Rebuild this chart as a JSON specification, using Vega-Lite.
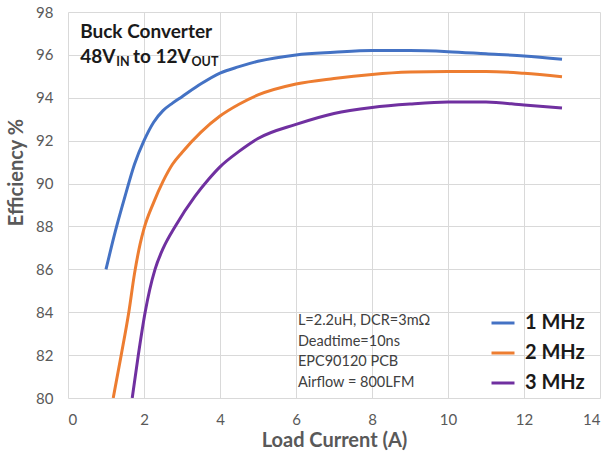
{
  "$schema": "https://vega.github.io/schema/vega-lite/v6.json",
  "width": 532,
  "height": 386,
  "autosize": {"type": "none"},
  "padding": {"left": 68, "top": 12, "right": 5, "bottom": 55},
  "background": "white",
  "config": {
    "view": {"stroke": null},
    "font": "Lato",
    "axis": {
      "gridColor": "#d9d9d9",
      "gridWidth": 1,
      "domain": false,
      "ticks": false,
      "labelColor": "#595959",
      "labelFontSize": 15,
      "labelFont": "Lato",
      "titleColor": "#595959",
      "titleFont": "Lato",
      "titleFontSize": 20,
      "titleFontWeight": "bold"
    }
  },
  "datasets": {
    "curves": [
      {"x": 1.0, "y": 86.0, "f": "1 MHz"},
      {"x": 1.25, "y": 87.8, "f": "1 MHz"},
      {"x": 1.5, "y": 89.4, "f": "1 MHz"},
      {"x": 1.75, "y": 90.9, "f": "1 MHz"},
      {"x": 2.0, "y": 92.0, "f": "1 MHz"},
      {"x": 2.25, "y": 92.85, "f": "1 MHz"},
      {"x": 2.5, "y": 93.4, "f": "1 MHz"},
      {"x": 2.75, "y": 93.75, "f": "1 MHz"},
      {"x": 3.0, "y": 94.05, "f": "1 MHz"},
      {"x": 3.5, "y": 94.65, "f": "1 MHz"},
      {"x": 4.0, "y": 95.15, "f": "1 MHz"},
      {"x": 4.5, "y": 95.45, "f": "1 MHz"},
      {"x": 5.0, "y": 95.7, "f": "1 MHz"},
      {"x": 6.0, "y": 96.0, "f": "1 MHz"},
      {"x": 7.0, "y": 96.12, "f": "1 MHz"},
      {"x": 8.0, "y": 96.2, "f": "1 MHz"},
      {"x": 9.0, "y": 96.2, "f": "1 MHz"},
      {"x": 10.0, "y": 96.15, "f": "1 MHz"},
      {"x": 11.0, "y": 96.05, "f": "1 MHz"},
      {"x": 12.0, "y": 95.95, "f": "1 MHz"},
      {"x": 13.0, "y": 95.8, "f": "1 MHz"},
      {"x": 1.19, "y": 80.0, "f": "2 MHz"},
      {"x": 1.4, "y": 82.0, "f": "2 MHz"},
      {"x": 1.6, "y": 84.0, "f": "2 MHz"},
      {"x": 1.75, "y": 85.8, "f": "2 MHz"},
      {"x": 1.9, "y": 87.2, "f": "2 MHz"},
      {"x": 2.0, "y": 87.9, "f": "2 MHz"},
      {"x": 2.25, "y": 89.1, "f": "2 MHz"},
      {"x": 2.5, "y": 90.1, "f": "2 MHz"},
      {"x": 2.75, "y": 90.9, "f": "2 MHz"},
      {"x": 3.0, "y": 91.45, "f": "2 MHz"},
      {"x": 3.5, "y": 92.4, "f": "2 MHz"},
      {"x": 4.0, "y": 93.15, "f": "2 MHz"},
      {"x": 4.5, "y": 93.7, "f": "2 MHz"},
      {"x": 5.0, "y": 94.13, "f": "2 MHz"},
      {"x": 6.0, "y": 94.64, "f": "2 MHz"},
      {"x": 7.0, "y": 94.9, "f": "2 MHz"},
      {"x": 8.0, "y": 95.09, "f": "2 MHz"},
      {"x": 9.0, "y": 95.2, "f": "2 MHz"},
      {"x": 10.0, "y": 95.23, "f": "2 MHz"},
      {"x": 11.0, "y": 95.23, "f": "2 MHz"},
      {"x": 12.0, "y": 95.14, "f": "2 MHz"},
      {"x": 13.0, "y": 94.98, "f": "2 MHz"},
      {"x": 1.69, "y": 80.0, "f": "3 MHz"},
      {"x": 1.85, "y": 82.0, "f": "3 MHz"},
      {"x": 2.03, "y": 84.0, "f": "3 MHz"},
      {"x": 2.15, "y": 85.05, "f": "3 MHz"},
      {"x": 2.29, "y": 86.0, "f": "3 MHz"},
      {"x": 2.51, "y": 87.0, "f": "3 MHz"},
      {"x": 2.82, "y": 88.0, "f": "3 MHz"},
      {"x": 3.34, "y": 89.4, "f": "3 MHz"},
      {"x": 3.7, "y": 90.2, "f": "3 MHz"},
      {"x": 4.0, "y": 90.78, "f": "3 MHz"},
      {"x": 4.5, "y": 91.5, "f": "3 MHz"},
      {"x": 5.0, "y": 92.1, "f": "3 MHz"},
      {"x": 6.0, "y": 92.76, "f": "3 MHz"},
      {"x": 7.0, "y": 93.27, "f": "3 MHz"},
      {"x": 8.0, "y": 93.55, "f": "3 MHz"},
      {"x": 9.0, "y": 93.71, "f": "3 MHz"},
      {"x": 10.0, "y": 93.8, "f": "3 MHz"},
      {"x": 11.0, "y": 93.8, "f": "3 MHz"},
      {"x": 12.0, "y": 93.66, "f": "3 MHz"},
      {"x": 13.0, "y": 93.52, "f": "3 MHz"}
    ],
    "big": [
      {"x": 0.32, "y": 96.79, "t": "Buck Converter"},
      {"x": 0.32, "y": 95.62, "t": "48V"},
      {"x": 1.71, "y": 95.62, "t": "to 12V"}
    ],
    "subs": [
      {"x": 1.27, "y": 95.48, "t": "IN"},
      {"x": 3.25, "y": 95.48, "t": "OUT"}
    ],
    "box": [
      {"x": 6.05, "y": 83.6, "t": "L=2.2uH, DCR=3mΩ"},
      {"x": 6.05, "y": 82.63, "t": "Deadtime=10ns"},
      {"x": 6.05, "y": 81.66, "t": "EPC90120 PCB"},
      {"x": 6.05, "y": 80.7, "t": "Airflow = 800LFM"}
    ]
  },
  "layer": [
    {
      "data": {"name": "curves"},
      "mark": {"type": "line", "strokeWidth": 3, "interpolate": "monotone", "clip": true},
      "encoding": {
        "x": {
          "field": "x", "type": "quantitative",
          "scale": {"domain": [0, 14], "nice": false},
          "axis": {"values": [0, 2, 4, 6, 8, 10, 12, 14], "labelPadding": 14, "title": "Load Current (A)", "titlePadding": 3}
        },
        "y": {
          "field": "y", "type": "quantitative",
          "scale": {"domain": [80, 98], "nice": false, "zero": false},
          "axis": {"values": [80, 82, 84, 86, 88, 90, 92, 94, 96, 98], "labelPadding": 15, "title": "Efficiency %", "titlePadding": 9, "titleY": 160}
        },
        "color": {
          "field": "f", "type": "nominal",
          "scale": {"domain": ["1 MHz", "2 MHz", "3 MHz"], "range": ["#4472C4", "#ED7D31", "#7030A0"]},
          "legend": {
            "title": null,
            "orient": "none",
            "legendX": 422,
            "legendY": 298,
            "symbolType": "stroke",
            "symbolSize": 529,
            "symbolStrokeWidth": 3,
            "labelFontSize": 20,
            "labelFontWeight": "bold",
            "labelColor": "#1a1a1a",
            "labelFont": "Lato",
            "labelOffset": 9,
            "rowPadding": 7
          }
        }
      }
    },
    {
      "data": {"name": "big"},
      "mark": {"type": "text", "align": "left", "baseline": "alphabetic", "fontSize": 19, "fontWeight": "bold", "color": "#1a1a1a", "font": "Lato"},
      "encoding": {
        "x": {"field": "x", "type": "quantitative"},
        "y": {"field": "y", "type": "quantitative"},
        "text": {"field": "t", "type": "nominal"}
      }
    },
    {
      "data": {"name": "subs"},
      "mark": {"type": "text", "align": "left", "baseline": "alphabetic", "fontSize": 12.5, "fontWeight": "bold", "color": "#1a1a1a", "font": "Lato"},
      "encoding": {
        "x": {"field": "x", "type": "quantitative"},
        "y": {"field": "y", "type": "quantitative"},
        "text": {"field": "t", "type": "nominal"}
      }
    },
    {
      "data": {"name": "box"},
      "mark": {"type": "text", "align": "left", "baseline": "middle", "fontSize": 14.5, "color": "#404040", "font": "Lato"},
      "encoding": {
        "x": {"field": "x", "type": "quantitative"},
        "y": {"field": "y", "type": "quantitative"},
        "text": {"field": "t", "type": "nominal"}
      }
    }
  ]
}
